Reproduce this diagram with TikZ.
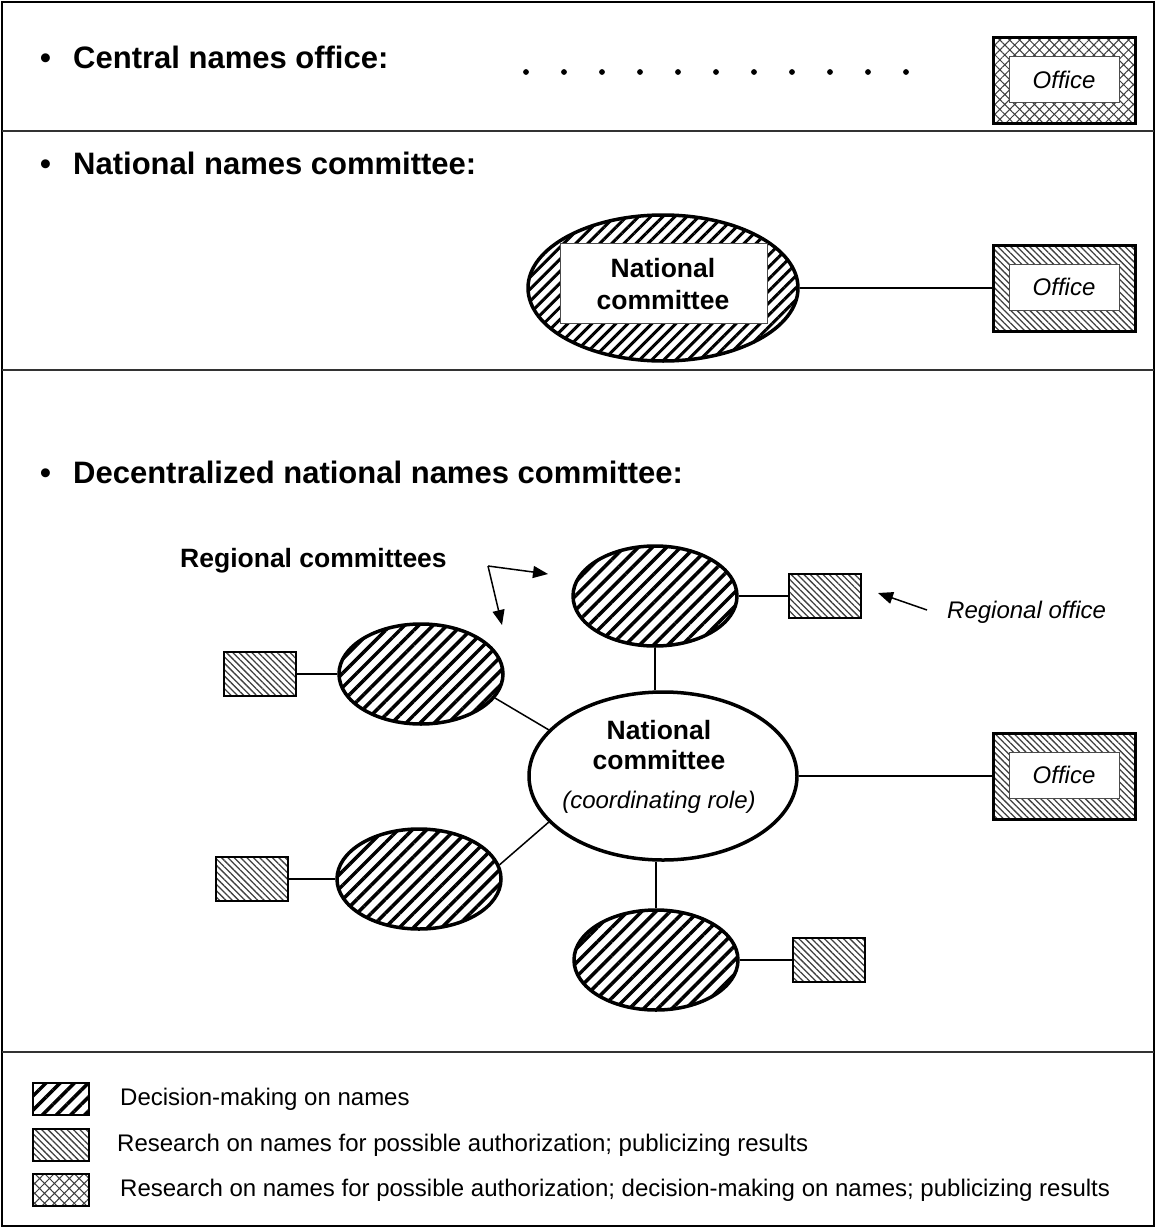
\documentclass[tikz,border=0pt]{standalone}
\usepackage{fontspec}
\setmainfont{Liberation Sans}
\usetikzlibrary{shapes.geometric,patterns.meta,arrows.meta}
\newcommand\fshead{\fontsize{31}{36}\selectfont\bfseries}
\newcommand\fsbold{\fontsize{26.5}{33}\selectfont\bfseries}
\newcommand\fsleg{\fontsize{24}{29}\selectfont}
\tikzset{
  decpat/.style={pattern={Lines[angle=45,distance=10pt,line width=3.5pt]},pattern color=black},
  decpatfine/.style={pattern={Lines[angle=45,distance=8.5pt,line width=3pt]},pattern color=black},
  respat/.style={pattern={Lines[angle=-45,distance=4.5pt,line width=1.3pt]},pattern color=black!75},
  crosspat/.style={pattern={Hatch[angle=45,distance=7pt,line width=1pt]},pattern color=black!75},
  regell/.style={ellipse,draw,line width=3.5pt,decpat,minimum width=164pt,minimum height=100pt,inner sep=0pt},
  smallbox/.style={rectangle,draw,line width=2.5pt,respat,minimum width=72pt,minimum height=44pt,inner sep=0pt},
  officebox/.style={rectangle,draw,line width=3pt,minimum width=142pt,minimum height=86pt,inner sep=0pt},
  officeinner/.style={rectangle,draw=black!70,line width=1pt,fill=white,minimum width=110pt,minimum height=46pt,inner sep=0pt,font=\fsleg\itshape},
  headtxt/.style={anchor=base west,inner sep=0pt,font=\fshead},
  boldtxt/.style={inner sep=0pt,font=\fsbold,align=center},
  legtxt/.style={anchor=west,inner sep=0pt,font=\fsleg},
  legbox/.style={rectangle,draw,line width=2pt,minimum width=56pt,minimum height=32pt,inner sep=0pt},
  conn/.style={line width=1.5pt},
  divider/.style={line width=1.2pt,black!80},
  arr/.style={line width=1.5pt,-{Triangle[length=15pt,width=12pt]}}
}
\begin{document}
\begin{tikzpicture}[x=1pt,y=-1pt]
\useasboundingbox (0,0) rectangle (1156,1228);
\fill[white] (0,0) rectangle (1156,1228);
% frame and dividers
\draw[line width=1.5pt] (2,2) rectangle (1154,1226);
\draw[divider] (2,131) -- (1154,131);
\draw[divider] (2,370) -- (1154,370);
\draw[divider] (2,1052) -- (1154,1052);

% ---- section 1
\node[headtxt] (b1) at (40,69) {•};
\node[headtxt] (h1) at (73,69) {Central names office:};
\foreach \i in {0,...,10} \fill (526+38*\i,72) circle (2.9);
\node[officebox,crosspat] (off1) at (1064,80.5) {};
\node[officeinner] (off1in) at (1064,80) {Office};

% ---- section 2
\node[headtxt] (b2) at (40,174) {•};
\node[headtxt] (h2) at (73,174) {National names committee:};
\node[ellipse,draw,line width=3.5pt,decpatfine,minimum width=270pt,minimum height=146pt,inner sep=0pt] (nc2) at (663,288) {};
\node[rectangle,draw=black!70,line width=1pt,fill=white,minimum width=207pt,minimum height=80pt,inner sep=0pt] (nc2in) at (663.5,283) {};
\node[boldtxt] (nc2t1) at (663,268) {National};
\node[boldtxt] (nc2t2) at (663,300) {committee};
\node[officebox,respat] (off2) at (1064,288) {};
\node[officeinner] (off2in) at (1064,287) {Office};
\draw[conn] (nc2.east) -- (off2.west);

% ---- section 3
\node[headtxt] (b3) at (40,483) {•};
\node[headtxt] (h3) at (73,483) {Decentralized national names committee:};
\node[anchor=base west,inner sep=0pt,font=\fsbold] (rc) at (180,567) {Regional committees};
\coordinate (rcsrc) at (488,566);
\coordinate (rcend1) at (548,574);
\coordinate (rcend2) at (502,625);
\draw[arr] (rcsrc) -- (rcend1);
\draw[arr] (rcsrc) -- (rcend2);

\node[ellipse,draw,line width=3.5pt,fill=white,minimum width=268pt,minimum height=168pt,inner sep=0pt] (nc) at (663,776) {};
\node[boldtxt] (nct1) at (659,730) {National};
\node[boldtxt] (nct2) at (659,760) {committee};
\node[inner sep=0pt,font=\fsleg\itshape] (nct3) at (659,802) {(coordinating role)};

\node[regell] (rt) at (655,596) {};
\node[regell] (ul) at (421,674) {};
\node[regell] (ll) at (419,879) {};
\node[regell] (rb) at (656,960) {};

\node[smallbox] (rtbox) at (825,596) {};
\node[smallbox] (ulbox) at (260,674) {};
\node[smallbox] (llbox) at (252,879) {};
\node[smallbox] (rbbox) at (829,960) {};

\draw[conn] (rt.east) -- (rtbox.west);
\draw[conn] (ulbox.east) -- (ul.west);
\draw[conn] (llbox.east) -- (ll.west);
\draw[conn] (rb.east) -- (rbbox.west);
\draw[conn] (rt.south) -- (rt.south |- nc.north);
\draw[conn] (rb.north) -- (rb.north |- nc.south);
\draw[conn] (ul.-18) -- (nc.158);
\draw[conn] (ll.10) -- (nc.-158);

\node[officebox,respat] (off3) at (1064,776) {};
\node[officeinner] (off3in) at (1064,775) {Office};
\draw[conn] (nc.east) -- (off3.west);

\node[anchor=base west,inner sep=0pt,font=\fsleg\itshape] (ro) at (947,618) {Regional office};
\coordinate (rotail) at (927,610);
\coordinate (rotip) at (878,593);
\draw[arr] (rotail) -- (rotip);

% ---- legend
\node[legbox,decpat] (lg1) at (61,1099) {};
\node[legbox,respat] (lg2) at (61,1145) {};
\node[legbox,crosspat] (lg3) at (61,1190) {};
\node[legtxt] (lt1) at (120,1099) {Decision-making on names};
\node[legtxt] (lt2) at (117,1145) {Research on names for possible authorization; publicizing results};
\node[legtxt] (lt3) at (120,1190) {Research on names for possible authorization; decision-making on names; publicizing results};
\end{tikzpicture}
\end{document}
